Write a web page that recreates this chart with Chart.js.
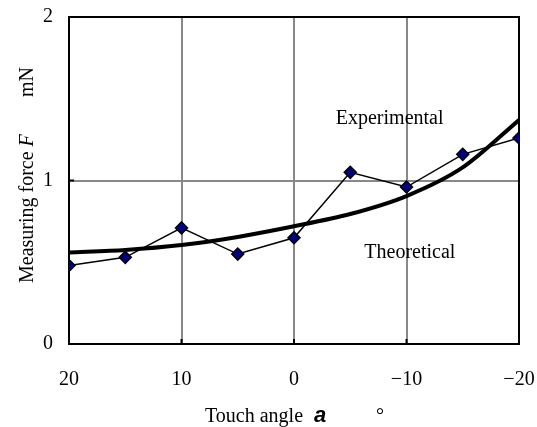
<!DOCTYPE html>
<html>
<head>
<meta charset="utf-8">
<script src="https://cdn.jsdelivr.net/npm/chart.js@4/dist/chart.umd.min.js"></script>
<style>
  html, body { margin: 0; padding: 0; background: #fff; }
  canvas { display: block; }
</style>
</head>
<body>
<canvas id="c" width="537" height="427"></canvas>
<script>
// Touch angle (degrees) and measuring force (mN)
const angles = [20, 15, 10, 5, 0, -5, -10, -15, -20];
const experimental = [0.48, 0.53, 0.71, 0.55, 0.65, 1.05, 0.96, 1.16, 1.26];
const theoretical = [0.56, 0.575, 0.605, 0.655, 0.72, 0.795, 0.905, 1.08, 1.37];
const xTicks = [20, 10, 0, -10, -20];
const yTicks = [0, 1, 2];

const SERIF = '"Liberation Serif", "Times New Roman", serif';

const toPoints = (ys) => angles.map((a, i) => ({ x: a, y: ys[i] }));

// Plot frame, inner tick marks, series labels and axis titles
const decorations = {
  id: 'decorations',
  beforeDatasetsDraw(chart) {
    const { ctx, chartArea: a, scales: { x, y } } = chart;
    ctx.save();
    ctx.strokeStyle = '#000';
    ctx.lineWidth = 2;
    ctx.strokeRect(a.left, a.top, a.right - a.left, a.bottom - a.top);
    xTicks.forEach(v => {
      const px = x.getPixelForValue(v);
      ctx.beginPath(); ctx.moveTo(px, a.bottom); ctx.lineTo(px, a.bottom - 5); ctx.stroke();
    });
    yTicks.forEach(v => {
      const py = y.getPixelForValue(v);
      ctx.beginPath(); ctx.moveTo(a.left, py); ctx.lineTo(a.left + 5, py); ctx.stroke();
    });
    ctx.restore();
  },
  afterDraw(chart) {
    const { ctx, scales: { x, y } } = chart;
    ctx.save();
    ctx.fillStyle = '#000';
    ctx.textBaseline = 'alphabetic';

    // series labels
    ctx.font = '20px ' + SERIF;
    ctx.textAlign = 'center';
    ctx.fillText('Experimental', x.getPixelForValue(-8.5), y.getPixelForValue(1.345));
    ctx.fillText('Theoretical', x.getPixelForValue(-10.3), y.getPixelForValue(0.526));

    // x axis title
    ctx.textAlign = 'left';
    ctx.font = '20px ' + SERIF;
    ctx.fillText('Touch angle', 205, 422);
    ctx.font = 'bold italic 22px "Liberation Sans", Arial, sans-serif';
    ctx.fillText('a', 314, 422);
    ctx.font = '20px ' + SERIF;
    ctx.fillText('\u00b0', 376, 422);

    // y axis title (rotated)
    ctx.translate(33, 283);
    ctx.rotate(-Math.PI / 2);
    ctx.font = '20px ' + SERIF;
    const t1 = 'Measuring force ';
    ctx.fillText(t1, 0, 0);
    const w = ctx.measureText(t1).width;
    ctx.font = 'italic 20px ' + SERIF;
    ctx.fillText('F', w, 0);
    ctx.font = '20px ' + SERIF;
    ctx.fillText('mN', 283 - 67 - ctx.measureText('mN').width, 0);
    ctx.restore();
  }
};

new Chart(document.getElementById('c'), {
  type: 'scatter',
  data: {
    datasets: [
      {
        label: 'Experimental',
        data: toPoints(experimental),
        showLine: true,
        borderColor: '#000',
        borderWidth: 1.5,
        pointStyle: 'rectRot',
        pointRadius: 6,
        pointBackgroundColor: '#000080',
        pointBorderColor: '#000',
        pointBorderWidth: 1.5,
        order: 0
      },
      {
        label: 'Theoretical',
        data: toPoints(theoretical),
        showLine: true,
        borderColor: '#000',
        borderWidth: 4,
        pointRadius: 0,
        tension: 0.3,
        order: 1
      }
    ]
  },
  options: {
    responsive: false,
    animation: false,
    layout: { padding: { top: 17, right: 18, left: 0, bottom: 0 } },
    plugins: {
      legend: { display: false },
      tooltip: { enabled: false }
    },
    scales: {
      x: {
        type: 'linear',
        reverse: true,
        min: -20,
        max: 20,
        afterBuildTicks: (s) => { s.ticks = xTicks.map(v => ({ value: v })); },
        afterFit: (s) => {
          s.height = 83;
          s.paddingLeft = 0; s.paddingRight = 0; s.paddingTop = 0; s.paddingBottom = 0;
        },
        grid: { color: '#888', lineWidth: 2, drawTicks: false },
        border: { display: false },
        ticks: {
          padding: 24,
          color: '#000',
          font: { family: SERIF, size: 20 },
          maxRotation: 0,
          callback: (v) => (v < 0 ? '\u2212' + Math.abs(v) : String(v))
        }
      },
      y: {
        type: 'linear',
        min: 0,
        max: 2,
        afterBuildTicks: (s) => { s.ticks = yTicks.map(v => ({ value: v })); },
        afterFit: (s) => {
          s.width = 69;
          s.paddingLeft = 0; s.paddingRight = 0; s.paddingTop = 0; s.paddingBottom = 0;
        },
        grid: { color: '#888', lineWidth: 2, drawTicks: false },
        border: { display: false },
        ticks: {
          padding: 16,
          color: '#000',
          font: { family: SERIF, size: 20 }
        }
      }
    }
  },
  plugins: [decorations]
});
</script>
</body>
</html>
